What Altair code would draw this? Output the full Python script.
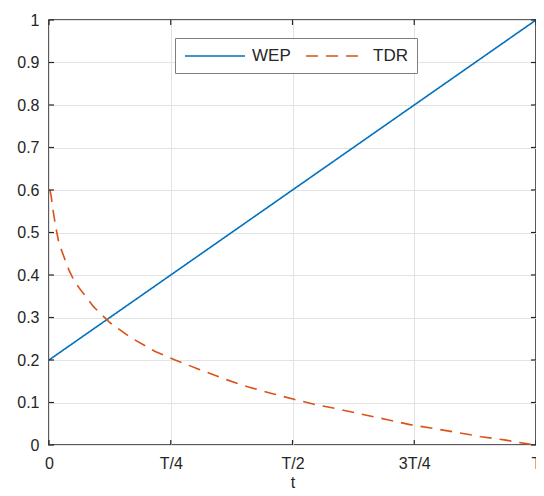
import altair as alt
import pandas as pd

# ---- data (t as fraction of T) ----
wep_t = [0.0, 0.25, 0.5, 0.75, 1.0]
wep_v = [0.2, 0.4, 0.6, 0.8, 1.0]

tdr_t = [0.002, 0.0047, 0.0082, 0.0137, 0.0204, 0.0306, 0.0408, 0.051, 0.0647,
         0.078, 0.0918, 0.126, 0.169, 0.218, 0.259, 0.306, 0.361, 0.408, 0.455,
         0.503, 0.551, 0.592, 0.693, 0.741, 0.789, 0.84, 0.887, 0.935, 0.986, 1.0]
tdr_v = [0.60, 0.584, 0.553, 0.514, 0.475, 0.443, 0.412, 0.388, 0.365,
         0.346, 0.325, 0.287, 0.252, 0.22, 0.2, 0.179, 0.155, 0.137, 0.122,
         0.1075, 0.094, 0.085, 0.06, 0.048, 0.039, 0.029, 0.0196, 0.012, 0.002, 0.0]

series_names = ["WEP", "TDR"]
series_colors = ["#0072BD", "#D95319"]

x_ticks = [0, 0.25, 0.5, 0.75, 1.0]
x_tick_labels = ["0", "T/4", "T/2", "3T/4", "T"]
y_ticks = [0, 0.1, 0.2, 0.3, 0.4, 0.5, 0.6, 0.7, 0.8, 0.9, 1.0]

W, H = 487, 425
FONT = "Liberation Sans"
TXT = "#262626"

df = pd.concat([
    pd.DataFrame({"t": wep_t, "v": wep_v, "series": "WEP"}),
    pd.DataFrame({"t": tdr_t, "v": tdr_v, "series": "TDR"}),
])

# build label expression from the tick label list
parts = []
for k, l in zip(x_ticks[:-1], x_tick_labels[:-1]):
    parts.append(f"datum.value === {k} ? '{l}' : ")
label_expr = "".join(parts) + f"'{x_tick_labels[-1]}'"

xscale = alt.Scale(domain=[0, 1], nice=False, zero=False)
yscale = alt.Scale(domain=[0, 1], nice=False, zero=False)

x_enc = alt.X("t:Q", scale=xscale, title="t",
              axis=alt.Axis(values=x_ticks, labelExpr=label_expr, grid=True,
                            ticks=False, domain=False, labelPadding=10,
                            titlePadding=3, labelFlush=False))
y_enc = alt.Y("v:Q", scale=yscale, title=None,
              axis=alt.Axis(values=y_ticks, grid=True, ticks=False, domain=False,
                            labelPadding=10, format="~g"))

legend_opts = dict(title=None, orient="none", legendX=126, legendY=18,
                   direction="horizontal", symbolType="M-1,0H6.5",
                   symbolSize=256, symbolStrokeWidth=1.6,
                   labelFont=FONT, labelFontSize=17, labelColor=TXT,
                   labelOffset=50, columnPadding=11, padding=9,
                   strokeColor="#7f7f7f", fillColor="white", cornerRadius=0)

lines = alt.Chart(df).mark_line(strokeWidth=1.6, clip=True).encode(
    x=x_enc,
    y=y_enc,
    color=alt.Color("series:N", scale=alt.Scale(domain=series_names, range=series_colors),
                    legend=alt.Legend(**legend_opts)),
    strokeDash=alt.StrokeDash("series:N",
                              scale=alt.Scale(domain=series_names, range=[[1, 0], [12, 8]]),
                              legend=alt.Legend(**legend_opts)),
)

ydf = pd.DataFrame({"v": y_ticks})
xdf = pd.DataFrame({"t": x_ticks})
ys = alt.Y("v:Q", scale=yscale)
xs = alt.X("t:Q", scale=xscale)
tick_style = dict(color=TXT, strokeWidth=1.2)

yl = alt.Chart(ydf).mark_rule(**tick_style).encode(y=ys, x=alt.value(0), x2=alt.value(5))
yr = alt.Chart(ydf).mark_rule(**tick_style).encode(y=ys, x=alt.value(W - 5), x2=alt.value(W))
xb = alt.Chart(xdf).mark_rule(**tick_style).encode(x=xs, y=alt.value(H - 5), y2=alt.value(H))
xt = alt.Chart(xdf).mark_rule(**tick_style).encode(x=xs, y=alt.value(0), y2=alt.value(5))

chart = alt.layer(lines, yl, yr, xb, xt).properties(
    width=W, height=H,
    autosize=alt.AutoSizeParams(type="none"),
    padding={"left": 41, "top": 12, "right": 0, "bottom": 43},
    background="white",
).configure_view(
    stroke=TXT, strokeWidth=1.5
).configure_axis(
    labelFont=FONT, labelFontSize=16, labelColor=TXT,
    titleFont=FONT, titleFontSize=16, titleColor=TXT, titleFontWeight="normal",
    gridColor="#e3e3e3", gridWidth=1,
)

chart.save("out.html", embed_options={"renderer": "svg", "actions": False})
